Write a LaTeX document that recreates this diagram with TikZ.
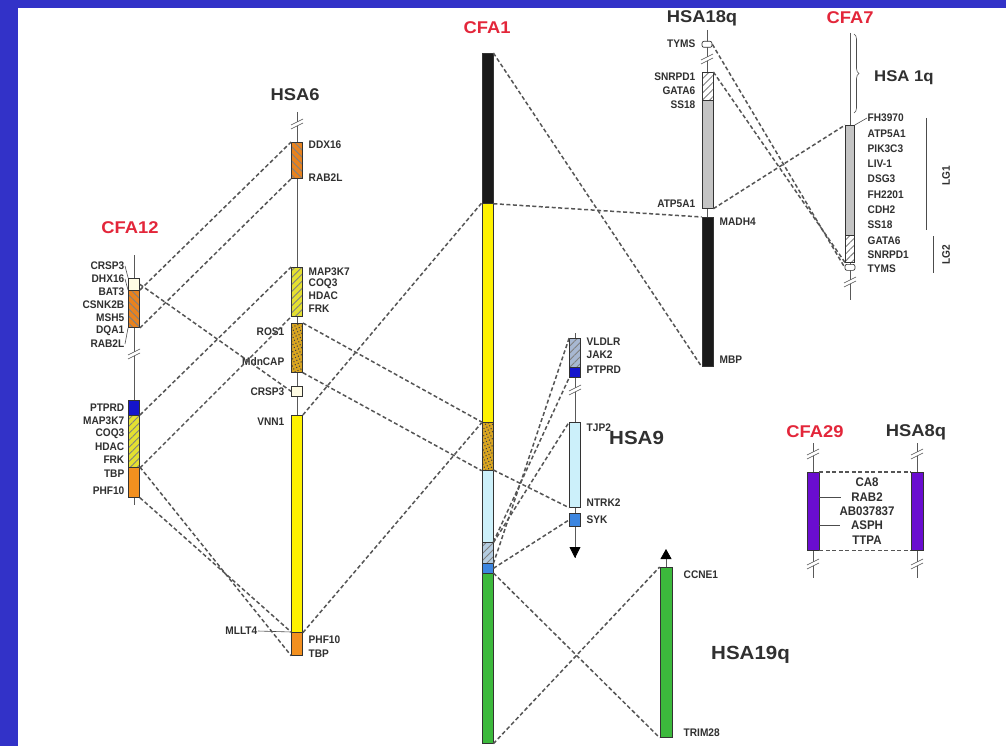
\documentclass[tikz,border=0pt]{standalone}
\usepackage{fontspec}
\setmainfont{Liberation Sans}
\newfontfamily\genefont[FakeStretch=0.92]{Liberation Sans}
\newfontfamily\titlefont[FakeStretch=1.08]{Liberation Sans}
\usetikzlibrary{patterns.meta,arrows.meta,decorations.pathreplacing}

\definecolor{frame}{HTML}{3232C8}
\definecolor{cfared}{HTML}{E3263A}
\definecolor{genetxt}{HTML}{303030}
\definecolor{ttltxt}{HTML}{303030}
\definecolor{linkgray}{HTML}{555555}
\definecolor{cream}{HTML}{FFFCE4}
\definecolor{orng}{HTML}{E8821E}
\definecolor{orngplain}{HTML}{F3901F}
\definecolor{olive}{HTML}{E4E030}
\definecolor{yel}{HTML}{FFF200}
\definecolor{mustard}{HTML}{D9A520}
\definecolor{lblue}{HTML}{CCF0FA}
\definecolor{hblue}{HTML}{B4CCE0}
\definecolor{gblue}{HTML}{A8B8D2}
\definecolor{dblue}{HTML}{1414CC}
\definecolor{mblue}{HTML}{3D86E0}
\definecolor{grn}{HTML}{3CB93C}
\definecolor{blk}{HTML}{1A1A1A}
\definecolor{gry}{HTML}{C4C4C4}
\definecolor{purp}{HTML}{6A0DD0}

\tikzset{
  chr/.style={draw=black!80, line width=0.7pt, minimum width=11pt, inner sep=0pt, anchor=north},
  hatchbox/.style 2 args={preaction={fill=#1}, pattern={Lines[angle=#2,distance=5pt,line width=0.9pt]}, pattern color=black!50},
  dotbox/.style={preaction={fill=mustard}, pattern={Dots[distance=3.2pt,radius=0.75pt,angle=25]}, pattern color=black!75},
  bone/.style={draw=black!65, line width=0.8pt},
  link/.style={draw=linkgray, line width=1.5pt, dash pattern=on 4pt off 2.5pt},
  lead/.style={draw=black!70, line width=0.6pt},
  gene/.style={font=\genefont\bfseries\fontsize{11}{13}\selectfont, text=genetxt, inner sep=0.5pt},
  ttl/.style={font=\titlefont\bfseries\fontsize{17}{20}\selectfont, text=ttltxt, inner sep=0pt},
  cfattl/.style={ttl, text=cfared}
}

% two little slashes that cut a chromosome line
\newcommand{\brkmark}[2]{%
  \fill[white] (#1-6,#2+3) -- (#1+6,#2-3) -- (#1+6,#2+1) -- (#1-6,#2+7) -- cycle;
  \draw[black!70, line width=0.6pt] (#1-6,#2+3) -- (#1+6,#2-3) (#1-6,#2+7) -- (#1+6,#2+1);}

\begin{document}
\begin{tikzpicture}[x=1pt,y=-1pt]
\useasboundingbox (0,0) rectangle (1006,746);
\fill[frame] (0,0) rectangle (1006,746);
\fill[white] (18,8) rectangle (1006,746);

%backbones first, the coloured blocks go on top of them
\coordinate (c12t) at (134,255); \coordinate (c12b) at (134,505);
\coordinate (h6t) at (297,112);  \coordinate (h6b) at (297,633);
\coordinate (h9t) at (575,333);  \coordinate (h9end) at (575,558);
\coordinate (h18t) at (707,30);  \coordinate (h18b) at (707,217);
\coordinate (f7t) at (850,33);   \coordinate (f7b) at (850,300);
\coordinate (f29t) at (813,443); \coordinate (f29b) at (813,578);
\coordinate (h8t) at (917,443);  \coordinate (h8b) at (917,578);
\coordinate (h19end) at (666,549);
\draw[bone] (c12t) -- (c12b);
\draw[bone] (h6t) -- (h6b);
\draw[bone] (h9t) -- (h9end);
\draw[bone] (h18t) -- (h18b);
\draw[bone] (f7t) -- (f7b);
\draw[bone] (f29t) -- (f29b);
\draw[bone] (h8t) -- (h8b);

%CFA12
\node[cfattl] (c12name) at (130,228) {CFA12};
\node[chr, fill=cream, minimum height=12pt] (c12crsp) at (134,278) {};
\node[chr, hatchbox={orng}{-45}, minimum height=37pt] (c12mhc) at (134,290) {};
\node[chr, fill=dblue, minimum height=15pt] (c12ptprd) at (134,400) {};
\node[chr, hatchbox={olive}{45}, minimum height=52pt] (c12yel) at (134,415) {};
\node[chr, fill=orngplain, minimum height=30pt] (c12phf) at (134,467) {};
\foreach \g [count=\i] in {CRSP3,DHX16,BAT3,CSNK2B,MSH5,DQA1,RAB2L}
  \node[gene, anchor=east] (c12u\i) at (125,253+13*\i) {\g};
\foreach \g/\y [count=\i] in {PTPRD/408,MAP3K7/421,COQ3/434,HDAC/447,FRK/460,TBP/474,PHF10/491}
  \node[gene, anchor=east] (c12l\i) at (125,\y) {\g};
\draw[lead] (c12u1.east) -- (c12crsp.north west);
\draw[lead] (c12u2.east) -- (c12mhc.north west);
\draw[lead] (c12u7.east) -- (c12mhc.south west);
\brkmark{134}{352}

%HSA6
\node[ttl] (h6name) at (295,95) {HSA6};
\node[chr, hatchbox={orng}{-45}, minimum height=36pt] (h6ddx) at (297,142) {};
\node[chr, hatchbox={olive}{45}, minimum height=49pt] (h6map) at (297,267) {};
\node[chr, dotbox, minimum height=49pt] (h6ros) at (297,323) {};
\node[chr, fill=cream, minimum height=10pt] (h6crsp) at (297,386) {};
\node[chr, fill=yel, minimum height=217pt] (h6vnn) at (297,415) {};
\node[chr, fill=orngplain, minimum height=23pt] (h6phf) at (297,632) {};
\foreach \g/\y [count=\i] in {DDX16/145,RAB2L/178,MAP3K7/272,COQ3/284,HDAC/296,FRK/309,PHF10/640,TBP/654}
  \node[gene, anchor=west] (h6r\i) at (308,\y) {\g};
\foreach \g/\y [count=\i] in {ROS1/332,MdnCAP/362,CRSP3/392,VNN1/422}
  \node[gene, anchor=east] (h6l\i) at (285,\y) {\g};
\node[gene, anchor=east] (h6mllt) at (258,631) {MLLT4};
\draw[lead] (h6mllt.east) -- (h6phf.north west);
\brkmark{297}{122}

%CFA1
\node[cfattl] (a1name) at (487,28) {CFA1};
\node[chr, fill=blk, minimum height=150pt] (a1blk) at (487.5,53) {};
\node[chr, fill=yel, minimum height=219pt] (a1yel) at (487.5,203) {};
\node[chr, dotbox, minimum height=48pt] (a1dot) at (487.5,422) {};
\node[chr, fill=lblue, minimum height=72pt] (a1lb) at (487.5,470) {};
\node[chr, hatchbox={hblue}{45}, minimum height=21pt] (a1hat) at (487.5,542) {};
\node[chr, fill=mblue, minimum height=10pt] (a1blu) at (487.5,563) {};
\node[chr, fill=grn, minimum height=170pt] (a1grn) at (487.5,573) {};

%HSA9
\node[ttl, font=\titlefont\bfseries\fontsize{19}{22}\selectfont, anchor=west] (h9name) at (609,438) {HSA9};
\node[chr, hatchbox={gblue}{45}, minimum height=29pt] (h9hat) at (575,338) {};
\node[chr, fill=dblue, minimum height=10pt] (h9ptp) at (575,367) {};
\node[chr, fill=lblue, minimum height=85pt] (h9tjp) at (575,422) {};
\node[chr, fill=mblue, minimum height=13pt] (h9syk) at (575,513) {};
\draw[bone, -{Triangle[width=11pt,length=11pt,color=black]}] (h9syk.south) -- (h9end);
\foreach \g/\y [count=\i] in {VLDLR/342,JAK2/355,PTPRD/370,TJP2/428,NTRK2/503,SYK/520}
  \node[gene, anchor=west] (h9r\i) at (586,\y) {\g};
\brkmark{575}{388}

%HSA18q
\node[ttl] (h18name) at (702,18) {HSA18q};
\node[chr, fill=white, minimum height=6pt, minimum width=10pt, rounded corners=2pt] (h18tym) at (707,41) {};
\node[chr, hatchbox={white}{45}, minimum height=28pt] (h18hat) at (707.5,72) {};
\node[chr, fill=gry, minimum height=108pt] (h18gry) at (707.5,100) {};
\node[chr, fill=blk, minimum height=149pt] (h18blk) at (707.5,217) {};
\foreach \g/\y [count=\i] in {TYMS/44,SNRPD1/77,GATA6/91,SS18/105,ATP5A1/204}
  \node[gene, anchor=east] (h18l\i) at (696,\y) {\g};
\node[gene, anchor=west] (h18r1) at (719,222) {MADH4};
\node[gene, anchor=west] (h18r2) at (719,360) {MBP};
\brkmark{707}{57}

%CFA7
\node[cfattl] (f7name) at (850,18) {CFA7};
\node[chr, fill=gry, minimum height=110pt, minimum width=9pt] (f7gry) at (850,125) {};
\node[chr, hatchbox={white}{45}, minimum height=27pt, minimum width=9pt] (f7hat) at (850,235) {};
\node[chr, fill=white, minimum height=6pt, minimum width=10pt, rounded corners=2pt] (f7tym) at (850,264) {};
\coordinate (brtop) at (854,34); \coordinate (brbot) at (854,113);
\draw[black!70, line width=0.6pt, decorate, decoration={brace, amplitude=5pt}] (brtop) -- (brbot);
\node[ttl, font=\titlefont\bfseries\fontsize{15.5}{18}\selectfont, anchor=west] (h1name) at (874,78) {HSA 1q};
\foreach \g [count=\i] in {FH3970,ATP5A1,PIK3C3,LIV-1,DSG3,FH2201,CDH2,SS18}
  \node[gene, anchor=west] (f7r\i) at (867,102.7+15.3*\i) {\g};
\foreach \g/\y [count=\i] in {GATA6/241,SNRPD1/255,TYMS/269}
  \node[gene, anchor=west] (f7s\i) at (867,\y) {\g};
\draw[lead] (f7gry.north east) -- (f7r1.west);
\coordinate (lg1t) at (926,118); \coordinate (lg1b) at (926,230);
\coordinate (lg2t) at (933,236); \coordinate (lg2b) at (933,273);
\draw[lead] (lg1t) -- (lg1b);
\draw[lead] (lg2t) -- (lg2b);
\node[gene, font=\genefont\bfseries\fontsize{11}{12}\selectfont, rotate=90] (lg1) at (946,176) {LG1};
\node[gene, font=\genefont\bfseries\fontsize{11}{12}\selectfont, rotate=90] (lg2) at (946,255) {LG2};
\brkmark{850}{280}

%CFA29 and HSA8q
\node[cfattl] (f29name) at (815,432) {CFA29};
\node[ttl] (h8name) at (916,432) {HSA8q};
\node[chr, fill=purp, minimum height=78pt, minimum width=12pt] (f29bar) at (813,472) {};
\node[chr, fill=purp, minimum height=78pt, minimum width=12pt] (h8bar) at (917.5,472) {};
\foreach \g/\y [count=\i] in {CA8/482,RAB2/497,AB037837/511,ASPH/525,TTPA/540}
  \node[gene, font=\genefont\bfseries\fontsize{12.5}{14}\selectfont] (f29g\i) at (867,\y) {\g};
\draw[lead] (f29bar.east |- f29g2) -- ([xshift=-10pt]f29g2.west);
\draw[lead] (f29bar.east |- f29g4) -- ([xshift=-10pt]f29g4.west);
\brkmark{813}{452}
\brkmark{813}{562}
\brkmark{917}{452}
\brkmark{917}{562}

%HSA19q
\node[ttl, font=\titlefont\bfseries\fontsize{19}{22}\selectfont, anchor=west] (h19name) at (711,655) {HSA19q};
\node[chr, fill=grn, minimum height=170pt, minimum width=12pt] (h19bar) at (666,567) {};
\draw[bone, -{Triangle[width=11pt,length=10pt,color=black]}] (h19bar.north) -- (h19end);
\node[gene, anchor=west] (h19r1) at (683,575) {CCNE1};
\node[gene, anchor=west] (h19r2) at (683,733) {TRIM28};

%dashed links between the conserved blocks
\draw[link] (c12mhc.north east) -- (h6ddx.north west);
\draw[link] (c12mhc.south east) -- (h6ddx.south west);
\draw[link] (c12crsp.east) -- (h6crsp.west);
\draw[link] (c12yel.north east) -- (h6map.north west);
\draw[link] (c12yel.south east) -- (h6map.south west);
\draw[link] (c12phf.north east) -- (h6phf.south west);
\draw[link] (c12phf.south east) -- (h6phf.north west);
\draw[link] (h6ros.north east) -- (a1dot.north west);
\draw[link] (h6ros.south east) -- (a1dot.south west);
\draw[link] (h6vnn.north east) -- (a1yel.north west);
\draw[link] (h6vnn.south east) -- (a1yel.south west);
\draw[link] (a1blk.north east) -- (h18blk.south west);
\draw[link] (a1blk.south east) -- (h18blk.north west);
\draw[link] (a1lb.north east) -- (h9tjp.south west);
\draw[link] (a1lb.south east) -- (h9tjp.north west);
\draw[link] (a1hat.north east) -- (h9ptp.south west);
\draw[link] (a1hat.south east) -- (h9hat.north west);
\draw[link] (a1blu.east) -- (h9syk.west);
\draw[link] (a1grn.north east) -- (h19bar.south west);
\draw[link] (a1grn.south east) -- (h19bar.north west);
\draw[link] (h18tym.east) -- (f7tym.west);
\draw[link] (h18hat.north east) -- (f7hat.south west);
\draw[link] (h18gry.south east) -- (f7gry.north west);
\draw[link] (f29bar.north east) -- (h8bar.north west);
\draw[link] (f29bar.south east) -- (h8bar.south west);
\end{tikzpicture}
\end{document}
